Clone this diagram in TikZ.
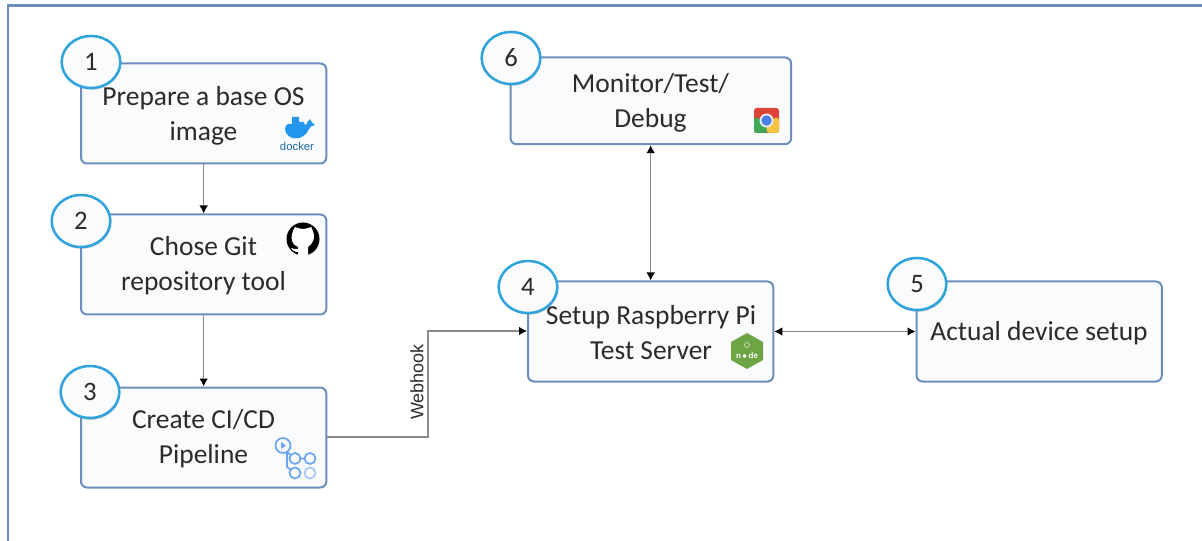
\documentclass[tikz,border=0pt]{standalone}
\usepackage{fontspec}
\setmainfont{Carlito}
\newfontfamily\labelfont{Liberation Sans}
\usetikzlibrary{arrows.meta,shadows,shapes.geometric}
\definecolor{framecol}{HTML}{6C8EBF}
\definecolor{boxfill}{HTML}{FAFBFC}
\definecolor{ringcol}{HTML}{2EA3DC}
\definecolor{inkcol}{HTML}{2B2B2B}
\definecolor{linecol}{HTML}{8A8A8A}
\definecolor{dockercol}{HTML}{2396ED}
\definecolor{pipecol}{HTML}{6BA5F5}
\definecolor{nodecol}{HTML}{6DA544}
\definecolor{chromered}{HTML}{DB4437}
\definecolor{chromegreen}{HTML}{3FA957}
\definecolor{chromeyellow}{HTML}{F4C542}
\definecolor{chromeblue}{HTML}{4A80E8}
\tikzset{
    stepbox/.style={draw=framecol, line width=1.5pt, fill=boxfill, rounded corners=4.5pt, inner sep=0pt, anchor=north west, minimum width=184pt, minimum height=75pt},
    steptext/.style={inner sep=0pt, align=center, text=inkcol, font=\fontsize{20.6}{26.2}\selectfont},
    badge/.style={ellipse, draw=ringcol, line width=1.9pt, fill=boxfill, minimum width=44pt, minimum height=39pt, inner sep=0pt, text=inkcol, font=\fontsize{20}{22}\selectfont, drop shadow={shadow xshift=0.6pt, shadow yshift=-1.4pt, opacity=.3}},
    link/.style={draw=linecol, line width=1pt},
    tip/.style={-{Latex[length=6pt,width=6.5pt,black]}},
    tips/.style={{Latex[length=6pt,width=6.5pt,black]}-{Latex[length=6pt,width=6.5pt,black]}},
}
\begin{document}
\begin{tikzpicture}[x=.75pt, y=-.75pt]
    \useasboundingbox (0, 0) rectangle (1202, 541);
    \draw[framecol, line width=1.8pt] (8, 541) -- (8, 5.5) -- (1202, 5.5);

    % boxes
    \node[stepbox] (base) at (80, 62.5) {};
    \node[stepbox] (git) at (80, 213.5) {};
    \node[stepbox] (pipe) at (80, 386.5) {};
    \node[stepbox] (server) at (527, 280.5) {};
    \node[stepbox] (device) at (915.5, 280.5) {};
    \node[stepbox, minimum width=210.5pt, minimum height=65pt] (debug) at (509.5, 56.5) {};

    % box texts
    \node[steptext] (basetext) at (203.5, 115.5) {Prepare a base OS\\image};
    \node[steptext] (gittext) at (203.5, 266) {Chose Git\\repository tool};
    \node[steptext] (pipetext) at (203.5, 439) {Create CI/CD\\Pipeline};
    \node[steptext] (servertext) at (651, 333) {Setup Raspberry Pi\\Test Server};
    \node[steptext] (devicetext) at (1039, 333) {Actual device setup};
    \node[steptext] (debugtext) at (650.5, 102.5) {Monitor/Test/\\Debug};

    % links
    \draw[link, tip] (base) -- (git);
    \draw[link, tip] (git) -- (pipe);
    \draw[link, tip] (pipe.east |- 0, 437) -- (428, 437) -- (428, 331) -- (server.west |- 0, 331);
    \draw[link, tips] (debug.south -| server) -- (server);
    \draw[link, tips] (server) -- (device);
    \node[rotate=90, inner sep=0pt, text=inkcol, font=\labelfont\fontsize{13.5}{14}\selectfont] (hook) at (417, 382) {Webhook};

    % badges
    \node[badge] (one) at (91, 62) {1};
    \node[badge] (two) at (81, 221) {2};
    \node[badge] (three) at (90, 392) {3};
    \node[badge] (four) at (528, 287) {4};
    \node[badge] (five) at (917, 284) {5};
    \node[badge] (six) at (511, 58) {6};

    % docker
    \fill[dockercol] (285, 129) -- (309, 129) .. controls (311, 125) and (314, 126) .. (315, 125) .. controls (312, 123) and (311, 121) .. (310, 119) .. controls (308, 121) and (307, 123) .. (306, 125) -- (304, 124) -- (304, 122) -- (299, 122) -- (299, 117) -- (292, 117) -- (292, 124) -- (288, 124) .. controls (286, 125) and (285, 127) .. (285, 129) .. controls (286, 141) and (304, 142) .. (309, 129) -- cycle;
    \node[text=dockercol!70!black, inner sep=0pt, font=\labelfont\fontsize{8.5}{9}\selectfont] (dockerlabel) at (297, 146) {docker};

    % github
    \fill[black] (303, 239) circle (16.5);
    \fill[white] (303, 229) .. controls (306, 229) and (308, 228) .. (311, 227) .. controls (314, 232) and (315, 237) .. (313, 241) .. controls (311, 245) and (309, 246) .. (308, 247) -- (308, 256) -- (298, 256) -- (298, 252) -- (296, 252) .. controls (293, 252) and (292, 249) .. (291, 248) .. controls (293, 248) and (295, 250) .. (298, 249) -- (298, 247) .. controls (295, 246) and (293, 244) .. (292, 241) .. controls (291, 237) and (292, 232) .. (295, 227) .. controls (298, 228) and (300, 229) .. (303, 229) -- cycle;

    % pipeline
    \begin{scope}[pipecol, line width=1.3pt]
        \draw (283, 445.5) circle (7.5);
        \fill (281, 442) -- (281, 449) -- (286, 445.5) -- cycle;
        \draw (287, 452) -- (295, 458.5) -- (310, 458.5);
        \draw (287, 453) -- (287, 467) -- (295, 473);
        \draw[fill=boxfill] (295, 458.5) circle (5.5);
        \draw[fill=boxfill] (310, 458.5) circle (5.5);
        \draw[fill=boxfill] (295, 473) circle (5.5);
        \draw[pipecol!60, fill=boxfill] (310, 473) circle (5.5);
    \end{scope}

    % chrome
    \fill[chromered, rounded corners=2pt] (754, 108) rectangle (779, 133);
    \fill[chromegreen, rounded corners=2pt] (754, 117) -- (754, 133) -- (768, 133) -- (766, 121) -- cycle;
    \fill[chromeyellow, rounded corners=2pt] (766, 121) -- (779, 117) -- (779, 133) -- (767, 133) -- cycle;
    \fill[white!85!gray] (766.5, 120.5) circle (7);
    \fill[chromeblue] (766.5, 120.5) circle (5.2);

    % node
    \fill[nodecol] (747, 333) -- (763, 342) -- (763, 360) -- (747, 369) -- (731, 360) -- (731, 342) -- cycle;
    \draw[white!70!nodecol, line width=.5pt] (747, 345) circle (2.5);
    \node[text=white, inner sep=0pt, font=\labelfont\bfseries\fontsize{6}{7}\selectfont] (nodelabel) at (747, 356) {n\,$\bullet$\,de};
\end{tikzpicture}
\end{document}
